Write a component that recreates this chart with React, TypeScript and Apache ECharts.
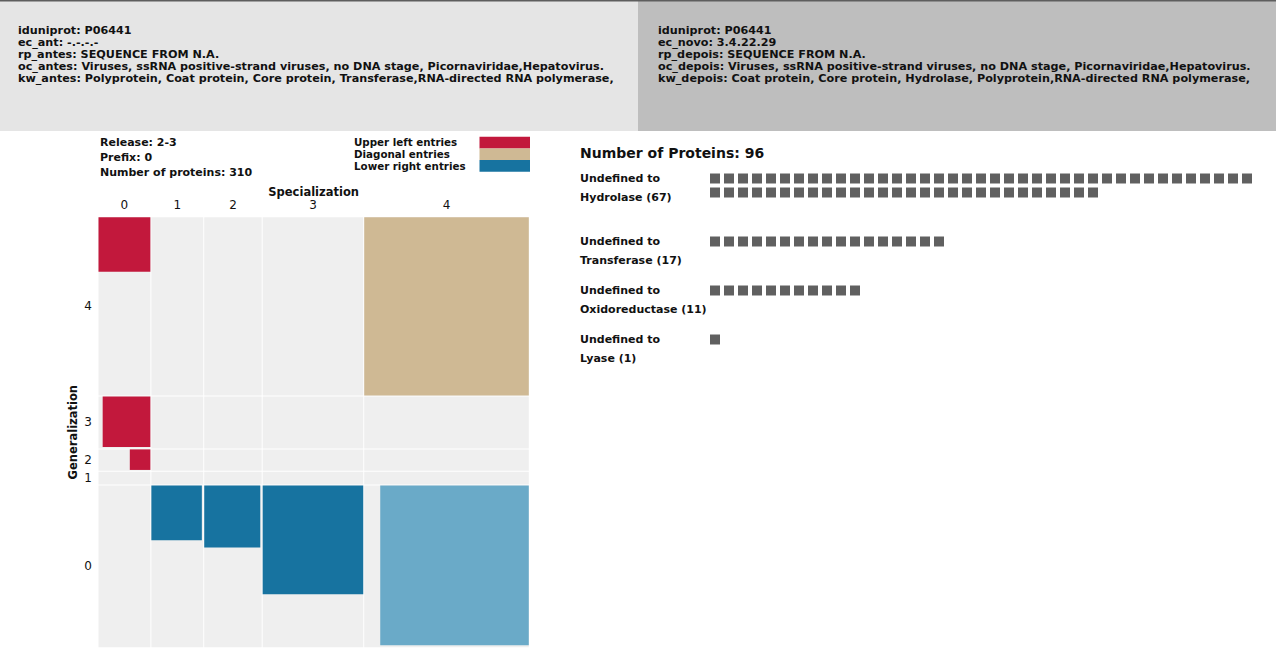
import React, { useEffect, useRef } from 'react';
import * as echarts from 'echarts';

const headerLeftLines = [
  'iduniprot: P06441',
  'ec_ant: -.-.-.-',
  'rp_antes: SEQUENCE FROM N.A.',
  'oc_antes: Viruses, ssRNA positive-strand viruses, no DNA stage, Picornaviridae,Hepatovirus.',
  'kw_antes: Polyprotein, Coat protein, Core protein, Transferase,RNA-directed RNA polymerase,',
];
const headerRightLines = [
  'iduniprot: P06441',
  'ec_novo: 3.4.22.29',
  'rp_depois: SEQUENCE FROM N.A.',
  'oc_depois: Viruses, ssRNA positive-strand viruses, no DNA stage, Picornaviridae,Hepatovirus.',
  'kw_depois: Coat protein, Core protein, Hydrolase, Polyprotein,RNA-directed RNA polymerase,',
];
const infoLines = ['Release: 2-3', 'Prefix: 0', 'Number of proteins: 310'];
const legendNames = ['Upper left entries', 'Diagonal entries', 'Lower right entries'];

// Mosaic: specialization columns (left->right), generalization rows (top->bottom)
const specLabels = ['0', '1', '2', '3', '4'];
const specTotals = [38, 38, 42, 73, 119];
const genLabels = ['4', '3', '2', '1', '0'];
const genTotals = [129, 38, 16, 10, 117];

// Entries (index into specLabels / genLabels), sizes in the same units as the axes
const entrySpec = [0, 0, 0, 4, 1, 2, 3, 4];
const entryGen = [0, 1, 2, 0, 4, 4, 4, 4];
const entryW = [38, 35, 15.5, 119, 37, 41, 73, 107.5];
const entryH = [40, 37, 15.5, 129, 40, 45.3, 79, 115.6];
const entryKind = [0, 0, 0, 1, 2, 2, 2, 3];
const kindColors = ['#C2183C', '#CFB994', '#1773A0', '#6AAAC8'];
const kindAnchorRight = [true, false, false, true];

// Right panel
const transitionFrom = 'Undefined';
const transitionTo = ['Hydrolase', 'Transferase', 'Oxidoreductase', 'Lyase'];
const transitionCounts = [67, 17, 11, 1];
const squaresPerRow = 39;

const FONT = '"DejaVu Sans", sans-serif';

function cumulative(arr: number[]) {
  const out: number[] = [];
  let s = 0;
  for (const v of arr) { out.push(s); s += v; }
  return out;
}

export default function App() {
  const ref = useRef<HTMLDivElement>(null);
  useEffect(() => {
    document.body.style.margin = '0';
    const chart = echarts.init(ref.current!, null, { renderer: 'svg' });
    const specStart = cumulative(specTotals);
    const genStart = cumulative(genTotals);
    const specTotal = specTotals.reduce((a, b) => a + b, 0);
    const genTotal = genTotals.reduce((a, b) => a + b, 0);
    const specCenters = specTotals.map((v, i) => specStart[i] + v / 2);
    const genCenters = genTotals.map((v, i) => genStart[i] + v / 2);
    const nearest = (centers: number[], v: number) => {
      let bi = 0; let bd = Infinity;
      centers.forEach((c, i) => { const d = Math.abs(c - v); if (d < bd) { bd = d; bi = i; } });
      return bi;
    };

    const cells: number[][] = [];
    genLabels.forEach((_, g) => specLabels.forEach((__, s) => cells.push([s, g])));
    const entries = entrySpec.map((s, i) => [s, entryGen[i], entryW[i], entryH[i], entryKind[i]]);

    // Right panel layout
    const blockStart: number[] = [];
    let acc = 0;
    transitionCounts.forEach((c) => {
      blockStart.push(acc);
      acc += Math.ceil(c / squaresPerRow) + 2.5;
    });
    const squares: number[][] = [];
    transitionCounts.forEach((c, i) => {
      for (let k = 0; k < c; k++) {
        squares.push([k % squaresPerRow, blockStart[i] + Math.floor(k / squaresPerRow)]);
      }
    });
    const labelData = transitionTo.map((_, i) => [0, blockStart[i], i]);
    const totalProteins = transitionCounts.reduce((a, b) => a + b, 0);

    const headerText = (lines: string[], x: number) => ({
      type: 'text', x, y: 24, silent: true,
      style: { text: lines.join('\n'), font: `bold 11.2px ${FONT}`, lineHeight: 12, fill: '#111', textVerticalAlign: 'top' },
    });

    const option: any = {
      animation: false,
      backgroundColor: '#ffffff',
      textStyle: { fontFamily: FONT },
      title: {
        text: `Number of Proteins: ${totalProteins}`,
        left: 580, top: 146, padding: 0,
        textStyle: { fontSize: 14, fontWeight: 'bold', color: '#111', fontFamily: FONT },
      },
      grid: [
        { left: 98, top: 216.7, width: 431.3, height: 431 },
        { left: 715, top: 178.5, width: 560, height: 280 },
      ],
      xAxis: [
        {
          gridIndex: 0, type: 'value', min: 0, max: specTotal, position: 'top',
          axisLine: { show: false }, axisTick: { show: false }, splitLine: { show: false },
          axisLabel: {
            customValues: specCenters, margin: 6, fontSize: 12, color: '#111', fontFamily: FONT,
            formatter: (v: number) => specLabels[nearest(specCenters, v)],
          },
          name: 'Specialization', nameLocation: 'middle', nameGap: 19, nameMoveOverlap: false,
          nameTextStyle: { fontWeight: 'bold', fontSize: 11.5, color: '#111', fontFamily: FONT },
        },
        { gridIndex: 1, type: 'value', min: 0, max: 40, show: false },
      ],
      yAxis: [
        {
          gridIndex: 0, type: 'value', min: 0, max: genTotal, inverse: true,
          axisLine: { show: false }, axisTick: { show: false }, splitLine: { show: false },
          axisLabel: {
            customValues: genCenters, margin: 6, fontSize: 12, color: '#111', fontFamily: FONT,
            formatter: (v: number) => genLabels[nearest(genCenters, v)],
          },
          name: 'Generalization', nameLocation: 'middle', nameGap: 19, nameRotate: 90,
          nameTextStyle: { fontWeight: 'bold', fontSize: 11.5, color: '#111', fontFamily: FONT },
        },
        { gridIndex: 1, type: 'value', min: 0, max: 20, inverse: true, show: false },
      ],
      graphic: [
        { type: 'rect', shape: { x: 0, y: 0, width: 638, height: 131 }, style: { fill: '#E5E5E5' }, silent: true },
        { type: 'rect', shape: { x: 638, y: 0, width: 638, height: 131 }, style: { fill: '#BEBEBE' }, silent: true },
        { type: 'rect', shape: { x: 0, y: 0, width: 1276, height: 1.5 }, style: { fill: '#5E5E5E' }, silent: true },
        headerText(headerLeftLines, 18),
        headerText(headerRightLines, 658),
        {
          type: 'text', x: 100, y: 134.5, silent: true,
          style: { text: infoLines.join('\n'), font: `bold 11px ${FONT}`, lineHeight: 15, fill: '#111', textVerticalAlign: 'top' },
        },
        {
          type: 'text', x: 354, y: 136, silent: true,
          style: { text: legendNames.join('\n'), font: `bold 10.3px ${FONT}`, lineHeight: 12, fill: '#111', textVerticalAlign: 'top' },
        },
        ...legendNames.map((_, i) => ({
          type: 'rect', silent: true,
          shape: { x: 479.5, y: 136.7 + i * 11.7, width: 50.5, height: 11.7 },
          style: { fill: kindColors[i] },
        })),
      ],
      series: [
        {
          type: 'custom', xAxisIndex: 0, yAxisIndex: 0, data: cells, silent: true,
          renderItem: (_p: any, api: any) => {
            const s = api.value(0); const g = api.value(1);
            const a = api.coord([specStart[s], genStart[g]]);
            const b = api.coord([specStart[s] + specTotals[s], genStart[g] + genTotals[g]]);
            return {
              type: 'rect',
              shape: { x: a[0] + 0.5, y: a[1] + 0.5, width: b[0] - a[0] - 1, height: b[1] - a[1] - 1 },
              style: { fill: '#EFEFEF' },
            };
          },
        },
        {
          type: 'custom', xAxisIndex: 0, yAxisIndex: 0, data: entries, silent: true,
          renderItem: (_p: any, api: any) => {
            const s = api.value(0); const g = api.value(1);
            const w = api.value(2); const h = api.value(3); const k = api.value(4);
            const left = kindAnchorRight[k] ? specStart[s] + specTotals[s] - w : specStart[s];
            const top = genStart[g];
            const a = api.coord([left, top]);
            const b = api.coord([left + w, top + h]);
            return {
              type: 'rect',
              shape: { x: a[0] + 0.5, y: a[1] + 0.5, width: b[0] - a[0] - 1, height: b[1] - a[1] - 1 },
              style: { fill: kindColors[k] },
            };
          },
        },
        {
          type: 'scatter', xAxisIndex: 1, yAxisIndex: 1, data: squares, silent: true,
          symbol: 'rect', symbolSize: 10, itemStyle: { color: '#606060', opacity: 1 },
        },
        {
          type: 'custom', xAxisIndex: 1, yAxisIndex: 1, data: labelData, silent: true,
          renderItem: (_p: any, api: any) => {
            const i = api.value(2);
            const p = api.coord([api.value(0), api.value(1)]);
            return {
              type: 'text', x: p[0] - 135, y: p[1] - 9.5,
              style: {
                text: `${transitionFrom} to\n${transitionTo[i]} (${transitionCounts[i]})`,
                font: `bold 11px ${FONT}`, lineHeight: 19, fill: '#111', textVerticalAlign: 'top',
              },
            };
          },
        },
      ],
    };
    chart.setOption(option);
    return () => chart.dispose();
  }, []);
  return <div ref={ref} style={{ width: 1276, height: 663 }} />;
}
